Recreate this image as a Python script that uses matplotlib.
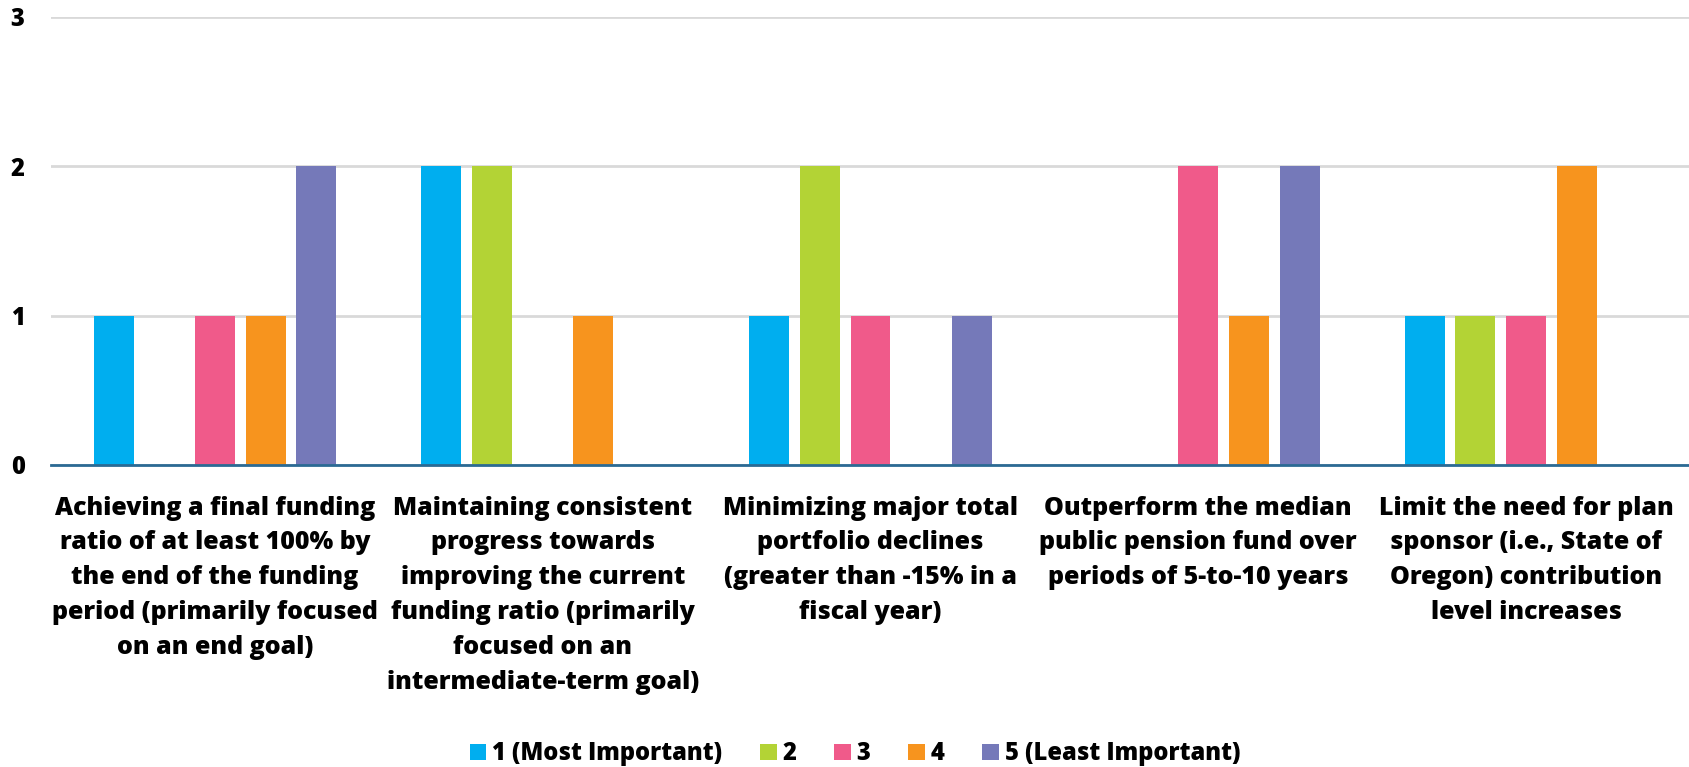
import matplotlib.pyplot as plt
import numpy as np

CATEGORIES = [
    "Achieving a final funding\nratio of at least 100% by\nthe end of the funding\nperiod (primarily focused\non an end goal)",
    "Maintaining consistent\nprogress towards\nimproving the current\nfunding ratio (primarily\nfocused on an\nintermediate-term goal)",
    "Minimizing major total\nportfolio declines\n(greater than -15% in a\nfiscal year)",
    "Outperform the median\npublic pension fund over\nperiods of 5-to-10 years",
    "Limit the need for plan\nsponsor (i.e., State of\nOregon) contribution\nlevel increases",
]
SERIES = ["1 (Most Important)", "2", "3", "4", "5 (Least Important)"]
RANK_1 = [1, 2, 1, 0, 1]
RANK_2 = [0, 2, 2, 0, 1]
RANK_3 = [1, 0, 1, 2, 1]
RANK_4 = [1, 1, 0, 1, 2]
RANK_5 = [2, 0, 1, 2, 0]
COLORS = ["#00AEEF", "#B3D335", "#F05A8A", "#F7941E", "#7579B9"]

plt.rcParams['font.family'] = ['Open Sans', 'DejaVu Sans']

fig = plt.figure(figsize=(16.9, 7.67), dpi=100)
ax = fig.add_axes([51 / 1690, 1 - 465 / 767, 1 - 51 / 1690, (465 - 17) / 767])

x = np.arange(len(CATEGORIES))
step = 0.1546
width = 0.122
for i, (vals, name) in enumerate(zip([RANK_1, RANK_2, RANK_3, RANK_4, RANK_5], SERIES)):
    ax.bar(x + (i - 2) * step, vals, width, color=COLORS[i], label=name, zorder=3)

ax.set_xlim(-0.5, len(CATEGORIES) - 0.5)
ax.set_ylim(0, 3)
ax.set_yticks([0, 1, 2, 3])
ax.yaxis.grid(True, color="#D9D9D9", linewidth=2, zorder=0)
ax.set_xticks(x)
ax.set_xticklabels(CATEGORIES, fontsize=18, fontweight='heavy', linespacing=1.52)
ax.tick_params(axis='x', length=0, pad=22)
ax.tick_params(axis='y', length=0, pad=19, labelsize=17)
for lbl in ax.get_yticklabels():
    lbl.set_fontweight('heavy')
for s in ['top', 'right', 'left']:
    ax.spines[s].set_visible(False)
ax.spines['bottom'].set_color("#2B6A94")
ax.spines['bottom'].set_linewidth(2)
ax.spines['bottom'].set_zorder(4)

fig.legend(loc='center', bbox_to_anchor=(0.506, 0.017), ncol=5, frameon=False,
           prop={'weight': 'heavy', 'size': 17}, handlelength=0.7, handleheight=0.7,
           handletextpad=0.25, columnspacing=1.6)

fig.savefig("out.png", dpi=100)
